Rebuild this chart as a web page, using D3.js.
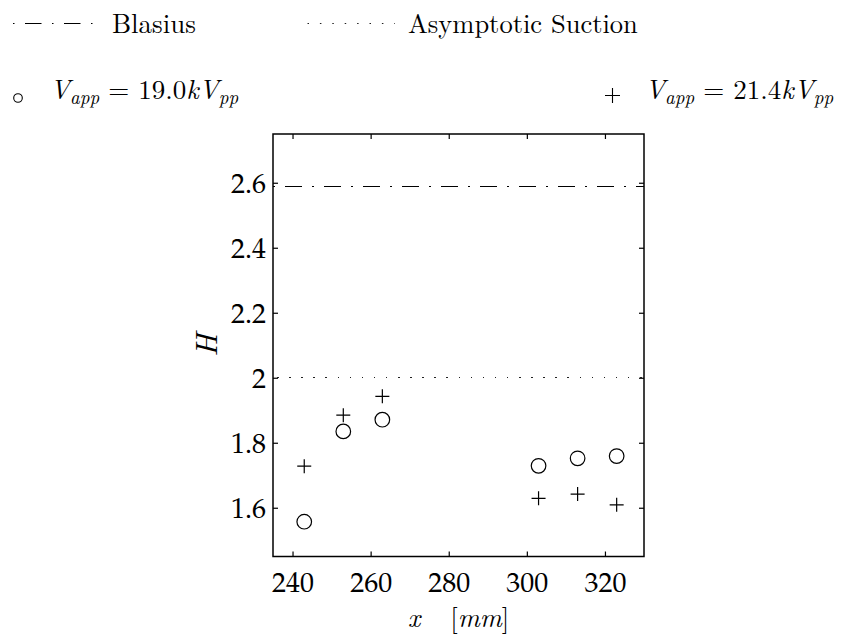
<!DOCTYPE html>
<html>
<head>
<meta charset="utf-8">
<script src="https://cdn.jsdelivr.net/npm/d3@7"></script>
<style>
  html, body { margin: 0; padding: 0; background: #fff; }
  svg { display: block; }
</style>
</head>
<body>
<svg id="chart" width="841" height="636"></svg>
<script>
// Streamwise stations (mm)
const stations = [243, 253, 263, 303, 313, 323];
// Shape factor H at each station, two actuation voltages
const hLowVoltage = [1.557, 1.835, 1.871, 1.729, 1.752, 1.759];   // 19.0 kVpp
const hHighVoltage = [1.728, 1.885, 1.943, 1.629, 1.642, 1.609];  // 21.4 kVpp
// Reference profiles
const blasiusH = 2.59;
const suctionH = 2.0;
// Axis ticks
const xTicks = [240, 260, 280, 300, 320];
const yTicks = [1.6, 1.8, 2, 2.2, 2.4, 2.6];

const TEX = '"Latin Modern Roman", "Liberation Serif", serif';
const TICKFONT = '"TeX Gyre Pagella", "URW Palladio L", "Palatino Linotype", "Liberation Serif", serif';

const svg = d3.select("#chart");
const plot = { left: 273, right: 644, top: 134, bottom: 556.5 };

const x = d3.scaleLinear().domain([235, 330]).range([plot.left, plot.right]);
const y = d3.scaleLinear().domain([1.45, 2.75]).range([plot.bottom, plot.top]);

const tickLen = 5;
const fmt = d => String(+d.toFixed(1));

// Axes with inward ticks on all four sides
const gB = svg.append("g").attr("transform", `translate(0,${plot.bottom})`)
  .call(d3.axisBottom(x).tickValues(xTicks).tickSizeInner(-tickLen).tickSizeOuter(0).tickPadding(0).tickFormat(d3.format("d")));
const gT = svg.append("g").attr("transform", `translate(0,${plot.top})`)
  .call(d3.axisTop(x).tickValues(xTicks).tickSizeInner(-tickLen).tickSizeOuter(0).tickFormat(""));
const gL = svg.append("g").attr("transform", `translate(${plot.left},0)`)
  .call(d3.axisLeft(y).tickValues(yTicks).tickSizeInner(-tickLen).tickSizeOuter(0).tickPadding(0).tickFormat(fmt));
const gR = svg.append("g").attr("transform", `translate(${plot.right},0)`)
  .call(d3.axisRight(y).tickValues(yTicks).tickSizeInner(-tickLen).tickSizeOuter(0).tickFormat(""));

[gB, gT, gL, gR].forEach(g => {
  g.select(".domain").remove();
  g.selectAll(".tick line").attr("stroke", "#000").attr("stroke-width", 1.2);
});

gB.selectAll(".tick text")
  .style("font-family", TICKFONT)
  .style("font-size", "28px")
  .attr("fill", "#000")
  .attr("dy", null)
  .attr("y", 35);
gL.selectAll(".tick text")
  .style("font-family", TICKFONT)
  .style("font-size", "28px")
  .attr("fill", "#000")
  .attr("x", -7)
  .attr("dy", "0.34em");

// Frame
svg.append("rect")
  .attr("x", plot.left).attr("y", plot.top)
  .attr("width", plot.right - plot.left).attr("height", plot.bottom - plot.top)
  .attr("fill", "none").attr("stroke", "#000").attr("stroke-width", 1.5);

// Reference lines
svg.append("line")
  .attr("x1", x(235)).attr("x2", x(330))
  .attr("y1", y(blasiusH)).attr("y2", y(blasiusH))
  .attr("stroke", "#000").attr("stroke-width", 1)
  .attr("shape-rendering", "crispEdges")
  .attr("stroke-dasharray", "16.5,10.5,1.5,10.5")
  .attr("stroke-dashoffset", 27);

svg.append("line")
  .attr("x1", x(235)).attr("x2", x(330))
  .attr("y1", y(suctionH)).attr("y2", y(suctionH))
  .attr("stroke", "#222").attr("stroke-width", 1.2)
  .attr("shape-rendering", "crispEdges")
  .attr("stroke-dasharray", "1.5,10.6")
  .attr("stroke-dashoffset", -4);

// Data markers
const circles = stations.map((s, i) => ({ s, h: hLowVoltage[i] }));
const pluses = stations.map((s, i) => ({ s, h: hHighVoltage[i] }));

svg.append("g").selectAll("circle").data(circles).join("circle")
  .attr("cx", d => x(d.s)).attr("cy", d => y(d.h)).attr("r", 7.3)
  .attr("fill", "none").attr("stroke", "#000").attr("stroke-width", 1.2);

const pr = 7;
svg.append("g").selectAll("path").data(pluses).join("path")
  .attr("d", d => {
    const cx = x(d.s), cy = y(d.h);
    return `M${cx - pr},${cy}H${cx + pr}M${cx},${cy - pr}V${cy + pr}`;
  })
  .attr("fill", "none").attr("stroke", "#000").attr("stroke-width", 1.2);

// Axis titles
const xt = svg.append("text")
  .attr("x", (plot.left + plot.right) / 2).attr("y", 627)
  .attr("text-anchor", "middle").attr("fill", "#000")
  .style("font-family", TEX).style("font-size", "27px");
xt.append("tspan").style("font-style", "italic").text("x");
xt.append("tspan").attr("dx", 30).text("[");
xt.append("tspan").style("font-style", "italic").text("mm");
xt.append("tspan").text("]");

svg.append("text")
  .attr("transform", `translate(217,${(plot.top + plot.bottom) / 2}) rotate(-90)`)
  .attr("text-anchor", "middle").attr("fill", "#000")
  .style("font-family", TEX).style("font-size", "31px").style("font-style", "italic")
  .text("H");

// Legend: reference lines
svg.append("line")
  .attr("x1", 12).attr("x2", 102).attr("y1", 23.5).attr("y2", 23.5)
  .attr("stroke", "#000").attr("stroke-width", 1.2)
  .attr("stroke-dasharray", "16.5,10.5,1.5,10.5")
  .attr("stroke-dashoffset", 26);
svg.append("text").attr("x", 112).attr("y", 33).attr("fill", "#000")
  .style("font-family", TEX).style("font-size", "27px").text("Blasius");

svg.append("line")
  .attr("x1", 307.5).attr("x2", 395).attr("y1", 23.5).attr("y2", 23.5)
  .attr("stroke", "#222").attr("stroke-width", 1.2)
  .attr("stroke-dasharray", "1.5,10.9");
svg.append("text").attr("x", 408).attr("y", 33).attr("fill", "#000")
  .style("font-family", TEX).style("font-size", "26.5px").text("Asymptotic Suction");

// Legend: markers with math labels
function mathLabel(xPos, yPos, value) {
  const t = svg.append("text").attr("x", xPos).attr("y", yPos).attr("fill", "#000")
    .style("font-family", TEX).style("font-size", "27px");
  t.append("tspan").style("font-style", "italic").text("V");
  t.append("tspan").style("font-style", "italic").style("font-size", "19px").attr("dy", 5).text("app");
  t.append("tspan").attr("dy", -5).attr("dx", 9).text("=");
  t.append("tspan").attr("dx", 9).text(value);
  t.append("tspan").style("font-style", "italic").text("kV");
  t.append("tspan").style("font-style", "italic").style("font-size", "19px").attr("dy", 5).text("pp");
  return t;
}

svg.append("circle").attr("cx", 18).attr("cy", 98).attr("r", 4.3)
  .attr("fill", "none").attr("stroke", "#000").attr("stroke-width", 1.1);
mathLabel(50, 99, "19.0");

svg.append("path").attr("d", "M605,95.5H620M612.5,88V103")
  .attr("stroke", "#000").attr("stroke-width", 1.1);
mathLabel(645, 99, "21.4");
</script>
</body>
</html>
